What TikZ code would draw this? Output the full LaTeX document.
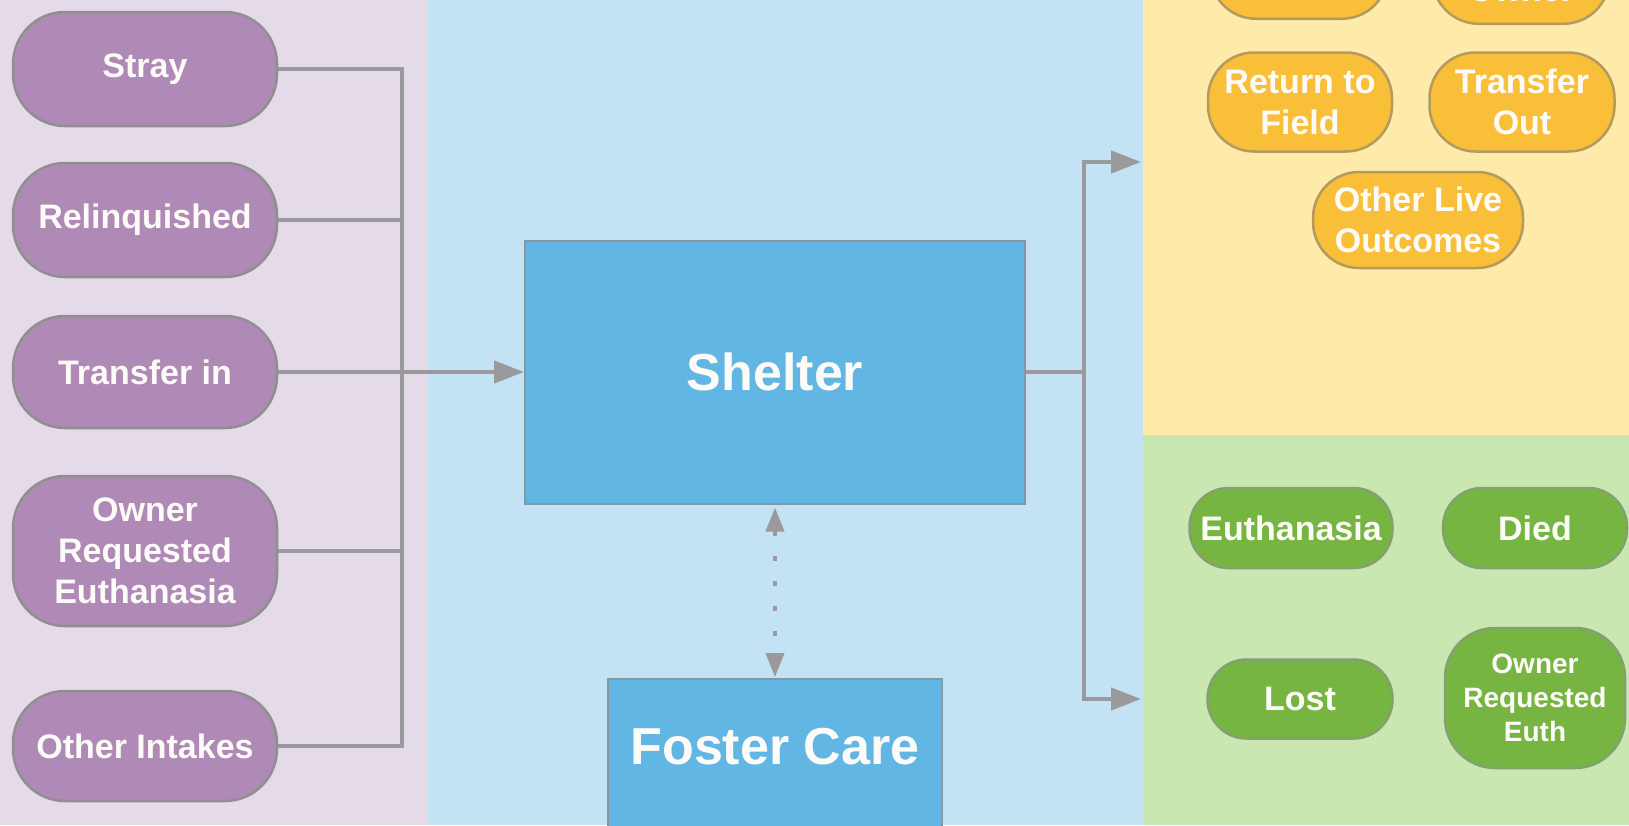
\documentclass[tikz,border=0pt]{standalone}
\usepackage{fontspec}
\setmainfont{Liberation Sans}
\usetikzlibrary{arrows.meta}
\definecolor{bgL}{HTML}{E5DAE8}
\definecolor{bgM}{HTML}{C3E3F5}
\definecolor{bgY}{HTML}{FEEBAA}
\definecolor{bgG}{HTML}{C9E7B0}
\definecolor{purp}{HTML}{B08AB6}
\definecolor{blu}{HTML}{62B6E4}
\definecolor{yel}{HTML}{F9BF38}
\definecolor{grn}{HTML}{77B543}
\definecolor{lgray}{HTML}{9A999B}
\definecolor{bgray}{HTML}{8F8F90}
\definecolor{ybord}{HTML}{B39A5E}
\definecolor{gbord}{HTML}{84A070}
\definecolor{txt}{HTML}{FDFBF7}
\newcommand\fntA{\fontsize{34}{41}\selectfont\bfseries}
\newcommand\fntB{\fontsize{28}{34}\selectfont\bfseries}
\newcommand\fntC{\fontsize{52}{60}\selectfont\bfseries}
\tikzset{
  pill/.style={draw=bgray, line width=2.5pt, rounded corners=52pt, inner sep=0pt,
    text=txt, align=center, font=\fntA},
  pnode/.style={pill, fill=purp, minimum width=264pt},
  ynode/.style={pill, fill=yel, draw=ybord, rounded corners=46pt},
  gnode/.style={pill, fill=grn, draw=gbord, rounded corners=39pt},
  bbox/.style={draw=bgray!80!blu, line width=2pt, fill=blu, text=txt, font=\fntC, inner sep=0pt},
  conn/.style={draw=lgray, line width=4.5pt},
  tip/.style={-{Triangle[length=30pt,width=22pt]}},
  dotline/.style={draw=lgray, line width=4pt, dash pattern=on 5pt off 20pt,
    {Triangle[length=24pt,width=18pt]}-{Triangle[length=24pt,width=18pt]}}
}
\begin{document}
\begin{tikzpicture}[x=1pt,y=-1pt]
\useasboundingbox (0,0) rectangle (1629,825);
\begin{scope}
\clip (0,0) rectangle (1629,825);
% backgrounds
\fill[bgL] (0,0) rectangle (428,825);
\fill[bgM] (428,0) rectangle (1143,825);
\fill[bgY] (1143,0) rectangle (1629,435);
\fill[bgG] (1143,435) rectangle (1629,825);

% intake nodes
\node[pnode, minimum height=114pt] (stray) at (145,69) {Stray};
\node[pnode, minimum height=114pt] (relq) at (145,220) {Relinquished};
\node[pnode, minimum height=112pt] (tin) at (145,372) {Transfer in};
\node[pnode, minimum height=150pt] (ore) at (145,551) {Owner\\Requested\\Euthanasia};
\node[pnode, minimum height=110pt] (oth) at (145,746) {Other Intakes};

% shelter and foster
\node[bbox, minimum width=500pt, minimum height=263pt] (shelter) at (775,372) {Shelter};
\node[bbox, anchor=north, minimum width=334pt, text height=85pt, text depth=110pt, inner ysep=0pt] (foster) at (775,678) {Foster Care};

% live outcomes
\node[ynode, minimum width=178pt, minimum height=100pt, anchor=south] (adopt) at (1299,20) {};
\node[ynode, minimum width=177pt, anchor=south, text height=78pt, text depth=22pt, inner ysep=0pt] (rto) at (1521,25) {Owner};
\node[ynode, minimum width=184pt, minimum height=99pt] (rtf) at (1300,102) {Return to\\Field};
\node[ynode, minimum width=185pt, minimum height=99pt] (tout) at (1522,102) {Transfer\\Out};
\node[ynode, minimum width=210pt, minimum height=96pt] (olo) at (1418,220) {Other Live\\Outcomes};

% non-live outcomes
\node[gnode, minimum width=203pt, minimum height=80pt] (euth) at (1291,528) {Euthanasia};
\node[gnode, minimum width=184pt, minimum height=80pt] (died) at (1535,528) {Died};
\node[gnode, minimum width=185pt, minimum height=79pt] (lost) at (1300,699) {Lost};
\node[gnode, minimum width=180pt, minimum height=140pt, rounded corners=50pt, font=\fntB] (oreu) at (1535,698) {Owner\\Requested\\Euth};

% left bus
\coordinate (lt) at (402,69);
\coordinate (lb) at (402,746);
\draw[conn] (stray.east) -- (lt) -- (lb) -- (oth.east);
\draw[conn] (relq.east) -- (relq.east -| lt);
\draw[conn] (ore.east) -- (ore.east -| lt);
\draw[conn, tip] (tin.east) -- (shelter.west);

% right bus
\coordinate (rt) at (1084,162);
\coordinate (rb) at (1084,699);
\coordinate (yin) at (1141,162);
\coordinate (gin) at (1141,699);
\draw[conn] (shelter.east) -- (shelter.east -| rt);
\draw[conn, tip] (shelter.east -| rt) -- (rt) -- (yin);
\draw[conn, tip] (shelter.east -| rt) -- (rb) -- (gin);

% foster link
\draw[dotline, shorten <=3pt, shorten >=1pt] (shelter.south) -- (foster.north);
\end{scope}
\end{tikzpicture}
\end{document}
